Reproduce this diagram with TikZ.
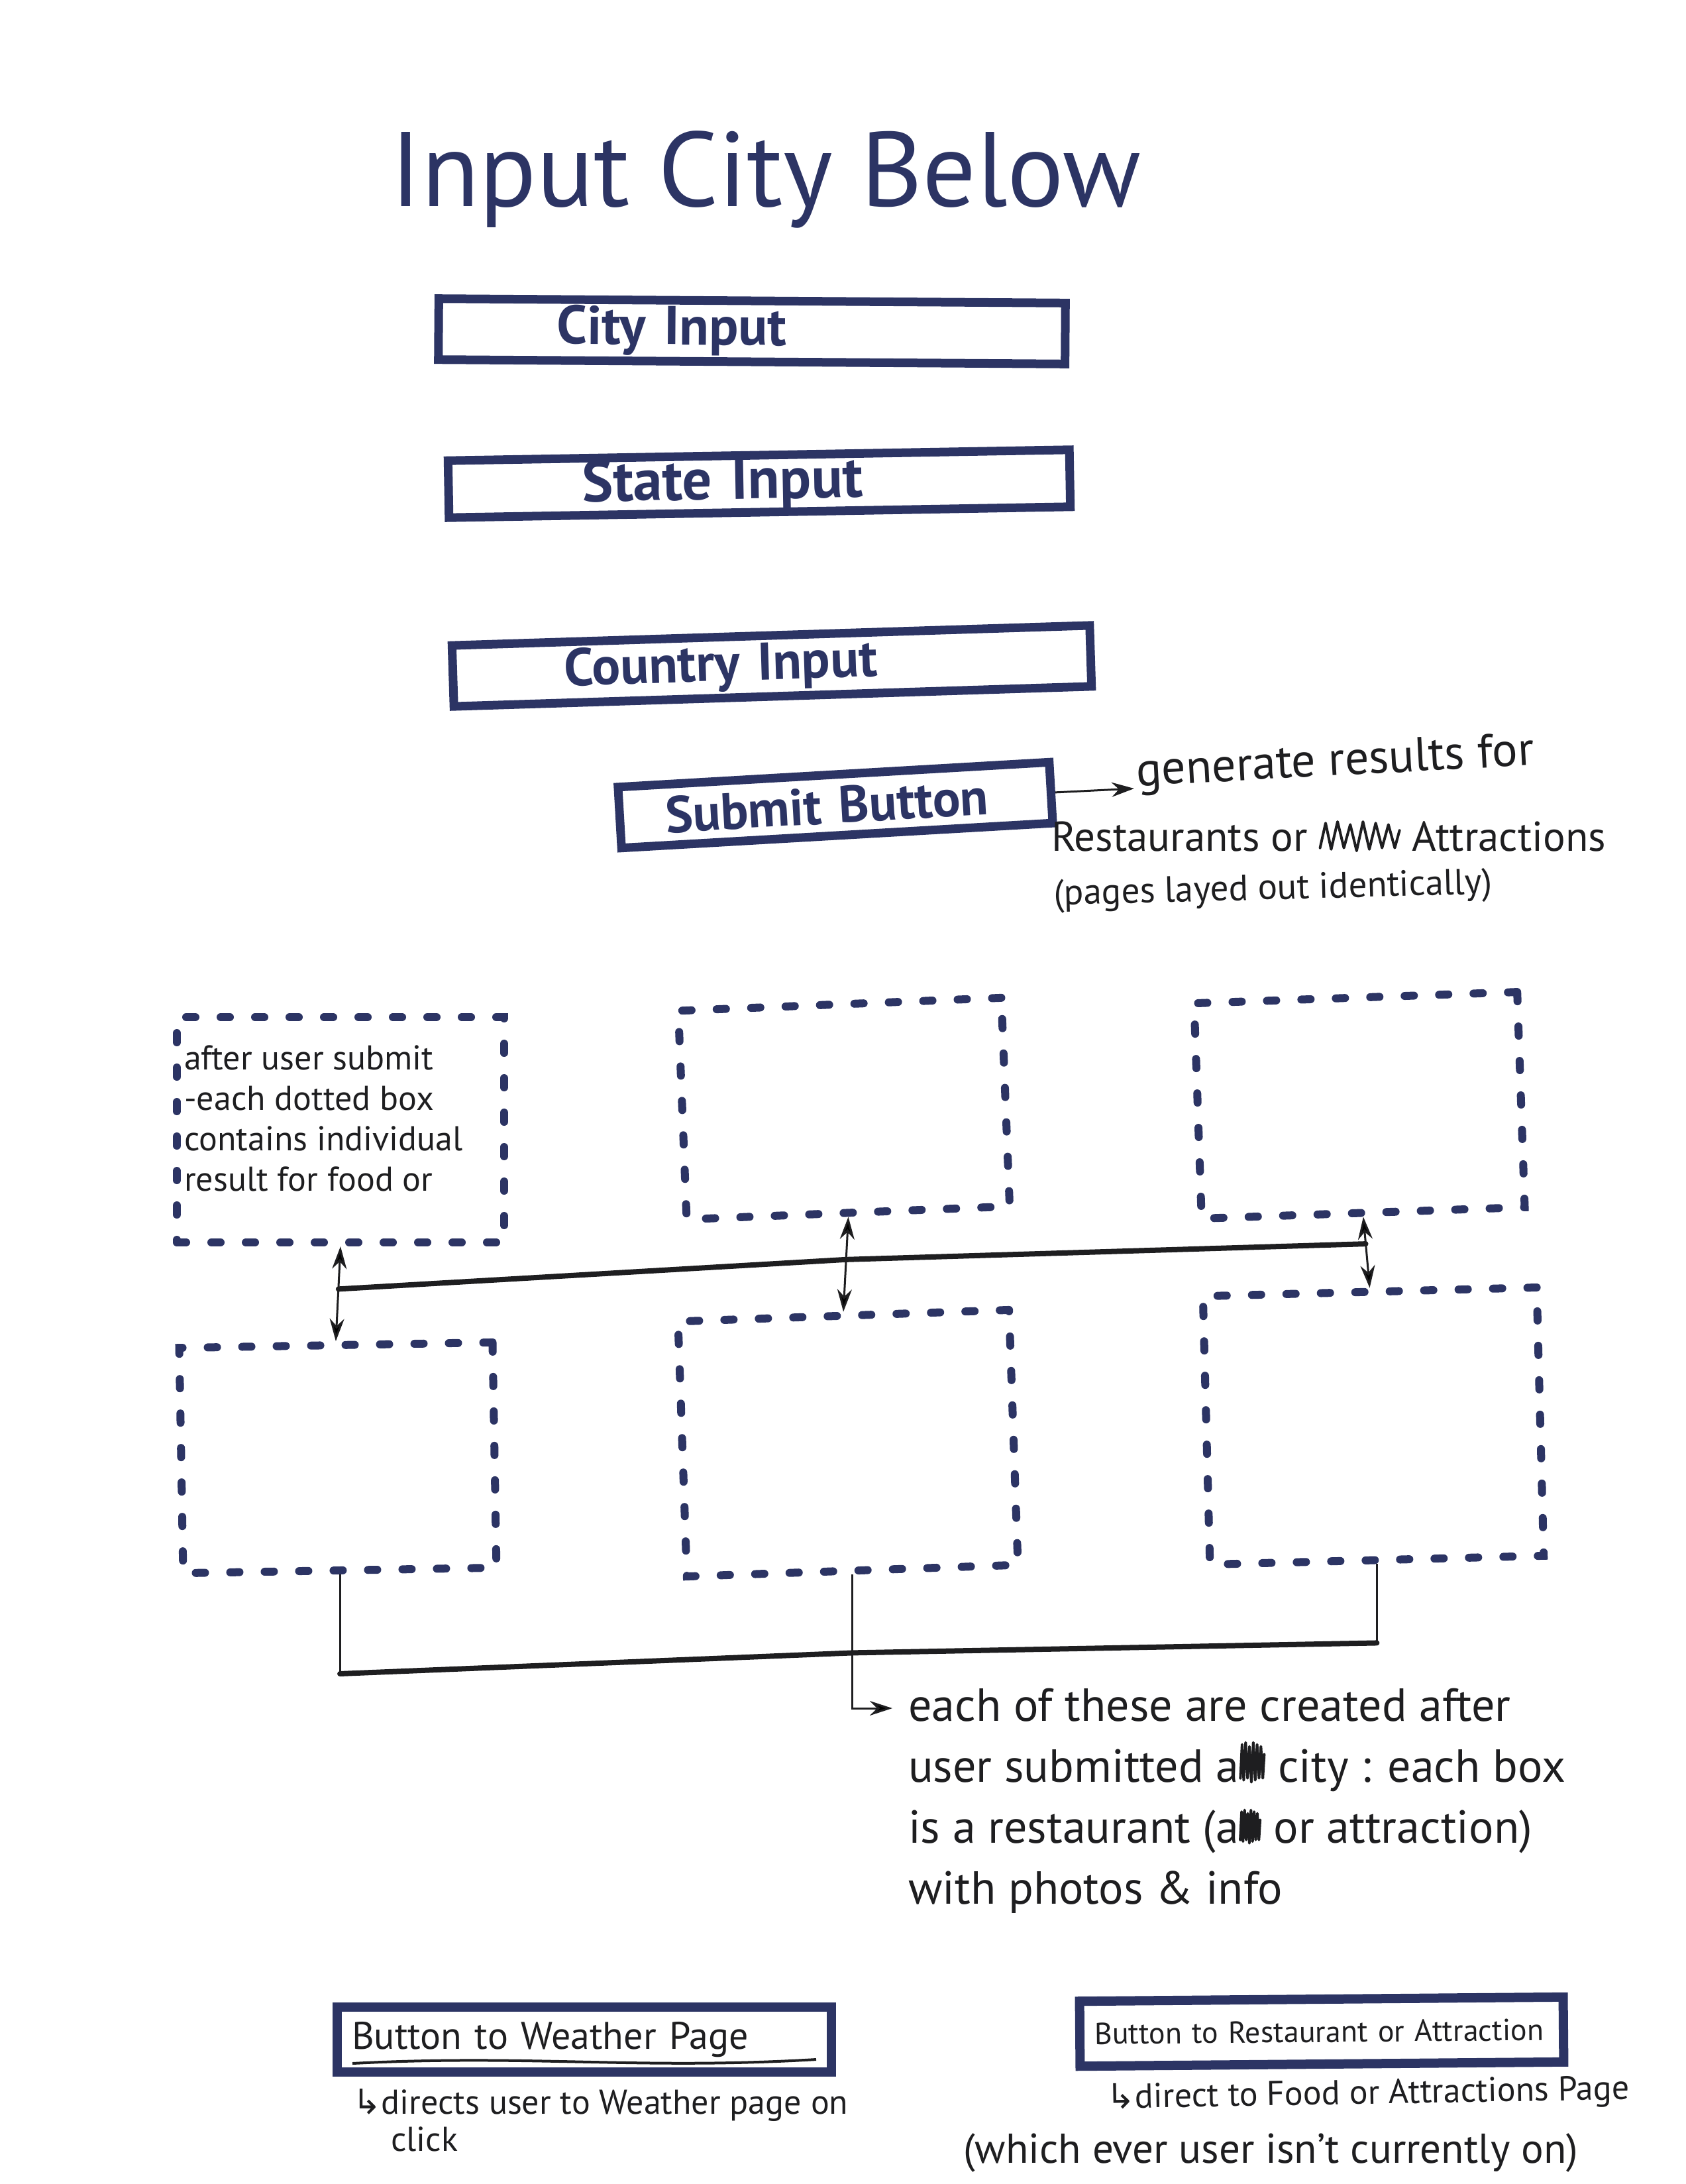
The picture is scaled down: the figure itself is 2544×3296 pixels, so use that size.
\documentclass[tikz,border=0pt]{standalone}
\usepackage{fontspec}
\setmainfont{PT Sans}
\newfontfamily\symf{DejaVu Sans}
\usetikzlibrary{arrows.meta,calc}
\definecolor{navy}{RGB}{44,52,100}
\definecolor{ink}{RGB}{30,30,32}
\newcommand{\fsl}[2]{\fontsize{#1pt}{#2pt}\selectfont}
\newcommand{\scribx}[2]{\tikz[baseline=0pt,x=#1pt,y=#2pt]{\draw[line width=4pt,ink,line join=round,line cap=round] (0,0.1)--(0.07,0.95)--(0.14,0.05)--(0.22,1)--(0.3,0.1)--(0.38,0.9)--(0.46,0)--(0.54,1)--(0.62,0.05)--(0.7,0.95)--(0.78,0.1)--(0.86,0.9)--(0.94,0.1)--(1,0.7);}}
\tikzset{
  field/.style={draw=navy, line width=13pt, inner sep=0pt, align=left, text=navy, minimum height=92pt},
  result/.style={draw=navy, line width=12pt, dash pattern=on 14pt off 38pt, line cap=round, inner sep=0pt},
  note/.style={text=ink, inner sep=0pt, align=left, anchor=north west},
  notel/.style={text=ink, inner sep=0pt, anchor=base west},
  link/.style={draw=ink, line width=3pt},
  bar/.style={draw=ink, line width=8pt, line cap=round, line join=round},
  dbl/.style={arrows={Stealth[length=34pt,width=22pt]-Stealth[length=34pt,width=22pt]}},
  sgl/.style={arrows={-Stealth[length=34pt,width=22pt]}},
  btn/.style={draw=navy, line width=14pt, inner xsep=22pt, inner ysep=0pt, align=left, text=ink, minimum height=98pt},
}
\begin{document}
\begin{tikzpicture}[x=1pt,y=-1pt]
\fill[white] (0,0) rectangle (2544,3296);
\useasboundingbox (0,0) rectangle (2544,3296);

% title
\node[font=\fsl{160}{180}, text=navy, inner sep=0pt, anchor=base] (title) at (1156,311) {Input City Below};

% input fields
\node[field, text width=946pt, rotate=-0.4, font=\fsl{82}{90}\bfseries] (city) at (1135,500) {\hspace*{179pt}City Input};
\node[field, text width=938pt, minimum height=86pt, rotate=1, font=\fsl{88}{90}\bfseries] (state) at (1146,730) {\hspace*{202pt}State Input};
\node[field, text width=963pt, rotate=1.8, font=\fsl{80}{90}\bfseries] (country) at (1165,1005) {\hspace*{168pt}Country Input};
\node[field, text width=652pt, rotate=3.3, font=\fsl{78}{90}\bfseries] (submit) at (1261,1215) {\hspace*{69pt}Submit Button};

% generate note
\coordinate (ga) at (1712,1190);
\draw[link, sgl] (submit.east) -- (ga);
\node[notel, font=\fsl{72}{72}, rotate=3] (gen1) at (1716,1186) {generate results for};
\node[notel, font=\fsl{63}{63}] (gen2) at (1587,1284) {Restaurants or \scribx{120}{44} Attractions};
\node[notel, font=\fsl{55}{55}, rotate=1.5] (gen3) at (1591,1366) {(pages layed out identically)};

% result boxes
\node[result, minimum width=494pt, minimum height=340pt] (tl) at (514,1705) {};
\node[result, minimum width=488pt, minimum height=315pt, rotate=2.3] (tm) at (1274,1673) {};
\node[result, minimum width=488pt, minimum height=325pt, rotate=2] (tr) at (2052,1668) {};
\node[result, minimum width=473pt, minimum height=340pt, rotate=1] (bl) at (510,2200) {};
\node[result, minimum width=500pt, minimum height=385pt, rotate=2] (bm) at (1280,2178) {};
\node[result, minimum width=504pt, minimum height=405pt, rotate=1.5] (br) at (2073,2152) {};

\node[note, font=\fsl{52}{61}] (tlnote) at ($(tl.north west)+(17,48)$) {after user submit\\-each dotted box\\contains individual\\result for food or};

% links between rows
\draw[link, dbl] (tl.south) -- (bl.north);
\draw[link, dbl] (tm.south) -- (bm.north);
\draw[link, dbl] (tr.south) -- (br.north);
\coordinate (h1) at ($(tl.south)!0.45!(bl.north)$);
\coordinate (h2) at ($(tm.south)!0.45!(bm.north)$);
\coordinate (h3) at ($(tr.south)!0.38!(br.north)$);
\draw[bar] (h1) -- (h2) -- (h3);

% bottom bracket
\coordinate (b1) at ($(bl.south)+(0,150)$);
\coordinate (b2) at ($(bm.south)+(0,118)$);
\coordinate (b3) at ($(br.south)+(0,119)$);
\node[note, font=\fsl{70}{92}] (created) at (1371,2548) {each of these are created after\\user submitted a\scribx{36}{60} city : each box\\is a restaurant (a\scribx{30}{50} or attraction)\\with photos \& info};
\coordinate (na) at ($(created.north west)+(-24,30)$);
\draw[link] (bl.south) -- (b1);
\draw[link] (br.south) -- (b3);
\draw[link, sgl] (bm.south) |- (na);
\draw[bar] (b1) -- (b2) -- (b3);

% bottom buttons
\node[btn, text width=702pt, font=\fsl{58}{60}] (wb) at (882,3078) {Button to Weather Page};
\draw[ink, line width=4pt] ($(wb.south west)+(30,-20)$) .. controls ($(wb.south west)+(300,-34)$) and ($(wb.south east)+(-300,-10)$) .. ($(wb.south east)+(-30,-26)$);
\node[note, font=\fsl{52}{56}] (wnote) at (532,3152) {{\symf ↳}directs user to Weather page on\\\hspace*{58pt}click};

\node[btn, text width=686pt, font=\fsl{46}{50}, rotate=0.5] (rb) at (1995,3066) {Button to Restaurant or Attraction};
\node[notel, font=\fsl{52}{52}, rotate=1] (rnote1) at (1670,3182) {{\symf ↳}direct to Food or Attractions Page};
\node[notel, font=\fsl{63}{63}] (rnote2) at (1454,3264) {(which ever user isn't currently on)};
\end{tikzpicture}
\end{document}
